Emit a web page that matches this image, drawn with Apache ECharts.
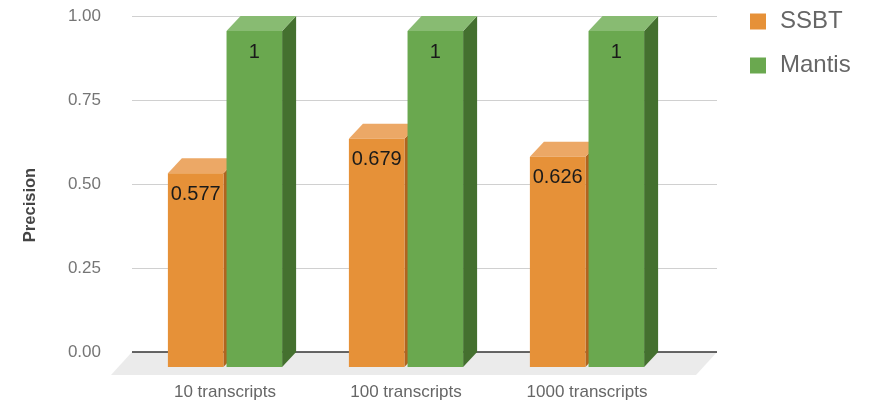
<!DOCTYPE html>
<html>
<head>
<meta charset="utf-8">
<script src="https://cdn.jsdelivr.net/npm/echarts@6/dist/echarts.min.js"></script>
<style>
  html, body { margin: 0; padding: 0; background: #fff; }
  #chart { width: 873px; height: 405px; }
</style>
</head>
<body>
<div id="chart"></div>
<script>
// Precision of transcript queries, SSBT vs Mantis
const categories = ['10 transcripts', '100 transcripts', '1000 transcripts'];
const ssbtValues = [0.577, 0.679, 0.626];
const mantisValues = [1, 1, 1];
const seriesNames = ['SSBT', 'Mantis'];

// pseudo-3D depth: the back plane sits up-right of the front plane
const DEPTH_X = 14;
const DEPTH_Y = 15;
// floor slab depth
const FLOOR_X = 21;
const FLOOR_Y = 23;

const palette = [
  { front: '#e69138', top: '#eca866', side: '#b0641f' },
  { front: '#6aa84f', top: '#88bb72', side: '#44702f' }
];

const chart = echarts.init(document.getElementById('chart'), null, { renderer: 'canvas' });

function barRenderer(sIdx) {
  return function (params, api) {
    const i = api.value(0);
    const v = api.value(1);
    const base = api.coord([i, 0]);
    const topPt = api.coord([i, v]);
    const bw = api.size([1, 0])[0];
    const w = bw * 0.307;
    const gap = bw * 0.017;
    const x0 = sIdx === 0 ? base[0] - gap / 2 - w : base[0] + gap / 2;
    const x1 = x0 + w;
    const yt = topPt[1];
    const yb = base[1];
    const c = palette[sIdx];
    return {
      type: 'group',
      children: [
        {
          type: 'polygon',
          shape: { points: [[x1, yt], [x1 + DEPTH_X, yt - DEPTH_Y], [x1 + DEPTH_X, yb - DEPTH_Y], [x1, yb]] },
          style: { fill: c.side }
        },
        {
          type: 'polygon',
          shape: { points: [[x0, yt], [x1, yt], [x1 + DEPTH_X, yt - DEPTH_Y], [x0 + DEPTH_X, yt - DEPTH_Y]] },
          style: { fill: c.top }
        },
        {
          type: 'rect',
          shape: { x: x0, y: yt, width: w, height: yb - yt },
          style: { fill: c.front }
        },
        {
          type: 'text',
          style: {
            x: (x0 + x1) / 2,
            y: yt + 21,
            text: String(v),
            fill: '#1a1a1a',
            font: '20px "Liberation Sans", Arial, sans-serif',
            align: 'center',
            verticalAlign: 'middle'
          }
        }
      ]
    };
  };
}

function floorRenderer(params, api) {
  const a = api.coord([0, 0]);
  const b = api.coord([1, 0]);
  return {
    type: 'group',
    children: [
      {
        type: 'polygon',
        shape: { points: [[a[0], a[1]], [b[0], b[1]], [b[0] - FLOOR_X, b[1] + FLOOR_Y], [a[0] - FLOOR_X, a[1] + FLOOR_Y]] },
        style: { fill: '#ebebeb' }
      },
      {
        type: 'line',
        shape: { x1: a[0], y1: a[1], x2: b[0], y2: b[1] },
        style: { stroke: '#333333', lineWidth: 1.6 }
      }
    ]
  };
}

const option = {
  animation: false,
  backgroundColor: '#ffffff',
  color: [palette[0].front, palette[1].front],
  grid: [
    // back plane: gridlines and value scale
    { left: 132, right: 156, top: 16, bottom: 53 },
    // front plane: bar faces and category labels
    { left: 134.5, right: 195.5, top: 31, bottom: 38 }
  ],
  legend: {
    orient: 'vertical',
    left: 750,
    top: 9.5,
    padding: 0,
    itemWidth: 16,
    itemHeight: 16,
    itemGap: 20,
    icon: 'rect',
    data: seriesNames,
    textStyle: {
      fontSize: 24,
      color: '#666666',
      fontFamily: '"Liberation Sans", Arial, sans-serif',
      padding: [0, 0, 0, 9]
    }
  },
  xAxis: [
    { gridIndex: 0, type: 'value', min: 0, max: 1, show: false },
    {
      gridIndex: 1,
      type: 'category',
      data: categories,
      axisLine: { show: false },
      axisTick: { show: false },
      splitLine: { show: false },
      axisLabel: {
        margin: 17,
        fontSize: 17,
        color: '#666666',
        fontFamily: '"Liberation Sans", Arial, sans-serif'
      }
    }
  ],
  yAxis: [
    {
      gridIndex: 0,
      type: 'value',
      min: 0,
      max: 1,
      interval: 0.25,
      axisLine: { show: false },
      axisTick: { show: false },
      splitLine: { lineStyle: { color: '#d0d0d0', width: 1.2 } },
      axisLabel: {
        margin: 31,
        fontSize: 17,
        color: '#757575',
        fontFamily: '"Liberation Sans", Arial, sans-serif',
        formatter: function (v) { return v.toFixed(2); }
      }
    },
    { gridIndex: 1, type: 'value', min: 0, max: 1, show: false }
  ],
  graphic: [
    {
      type: 'text',
      x: 30,
      y: 205,
      rotation: Math.PI / 2,
      style: {
        text: 'Precision',
        font: 'bold 16.5px "Liberation Sans", Arial, sans-serif',
        fill: '#444444',
        align: 'center',
        verticalAlign: 'middle'
      }
    }
  ],
  series: [
    {
      type: 'custom',
      name: 'floor',
      xAxisIndex: 0,
      yAxisIndex: 0,
      z: 1,
      silent: true,
      data: [[0, 0]],
      renderItem: floorRenderer
    },
    {
      type: 'custom',
      name: seriesNames[0],
      xAxisIndex: 1,
      yAxisIndex: 1,
      z: 3,
      itemStyle: { color: palette[0].front },
      data: ssbtValues.map(function (v, i) { return [i, v]; }),
      encode: { x: 0, y: 1 },
      renderItem: barRenderer(0)
    },
    {
      type: 'custom',
      name: seriesNames[1],
      xAxisIndex: 1,
      yAxisIndex: 1,
      z: 4,
      itemStyle: { color: palette[1].front },
      data: mantisValues.map(function (v, i) { return [i, v]; }),
      encode: { x: 0, y: 1 },
      renderItem: barRenderer(1)
    }
  ]
};

chart.setOption(option);
</script>
</body>
</html>
